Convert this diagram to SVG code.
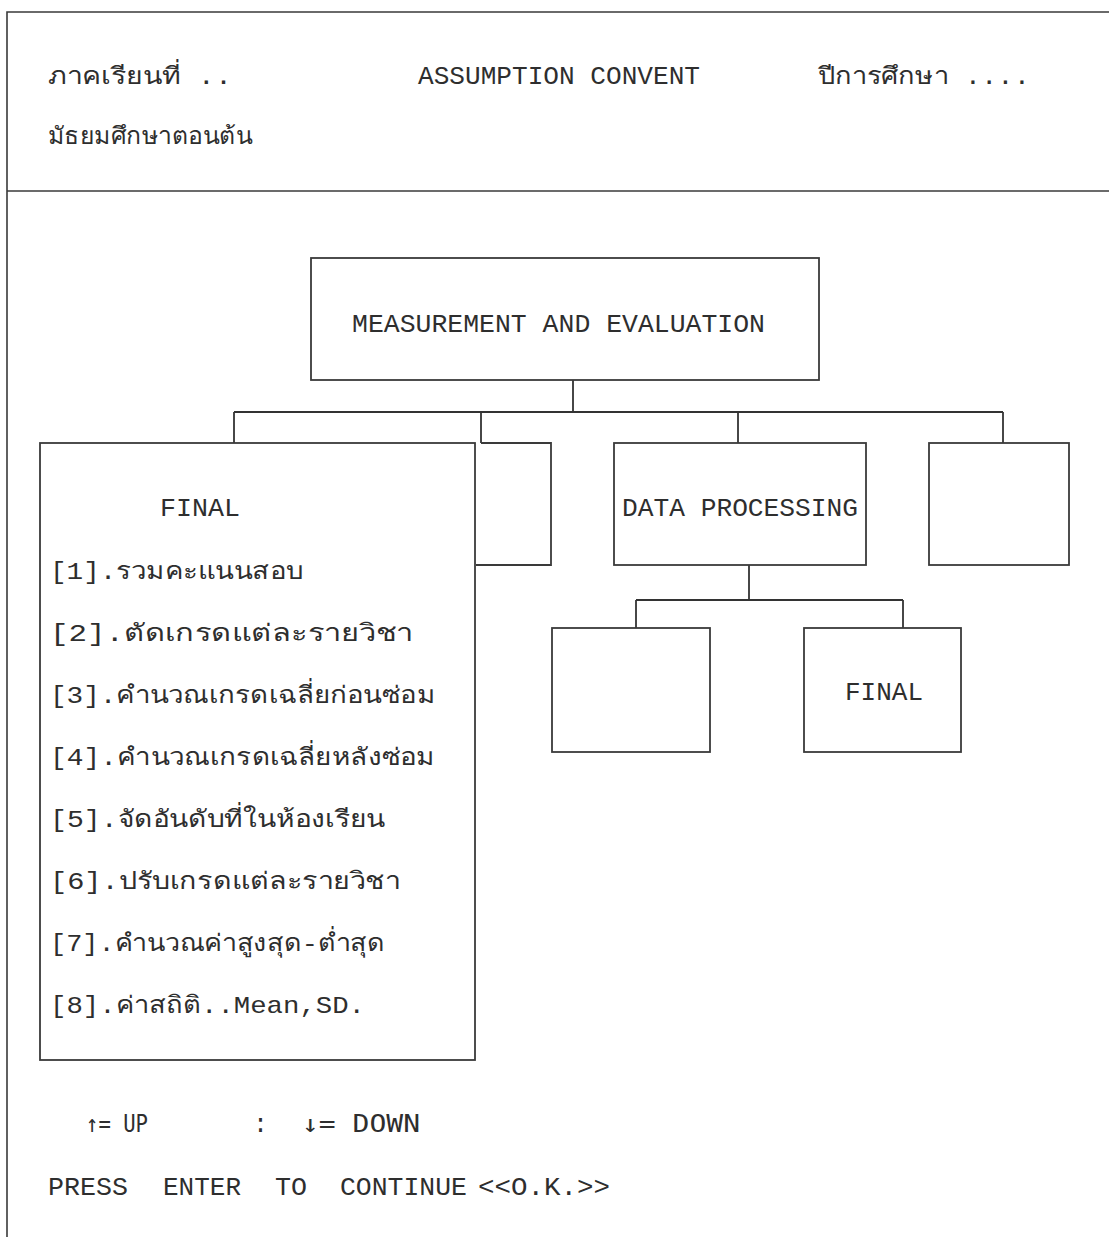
<svg xmlns="http://www.w3.org/2000/svg" width="1109" height="1237" viewBox="0 0 1109 1237">
  <style>
    .frame { fill: none; stroke: #3a3a3a; stroke-width: 1.6; }
    .box { fill: none; stroke: #3a3a3a; stroke-width: 1.8; }
    .wire { fill: none; stroke: #333333; stroke-width: 1.8; }
    .t { font-family: "Liberation Mono", "DejaVu Sans Mono", monospace; font-size: 25px; fill: #2e2e2e; }
    .th { font-family: "Liberation Mono", "Noto Sans", "DejaVu Sans", monospace; font-size: 24px; fill: #2e2e2e; }
    .key { font-family: "DejaVu Sans Mono", "Liberation Mono", monospace; font-size: 24px; fill: #2e2e2e; }
  </style>

  <rect width="1109" height="1237" fill="#ffffff"/>

  <!-- screen frame -->
  <g id="frame">
    <path class="frame" d="M7,1237 V12 H1109"/>
    <path class="frame" d="M7,191 H1109"/>
  </g>

  <!-- header -->
  <g id="header">
    <text class="th" x="48" y="84" textLength="184" lengthAdjust="spacingAndGlyphs">ภาคเรียนที่ ..</text>
    <text class="t" x="418" y="84" textLength="282" lengthAdjust="spacingAndGlyphs">ASSUMPTION CONVENT</text>
    <text class="th" x="818" y="84" textLength="212" lengthAdjust="spacingAndGlyphs">ปีการศึกษา ....</text>
    <text class="th" x="48" y="144" textLength="204" lengthAdjust="spacingAndGlyphs">มัธยมศึกษาตอนต้น</text>
  </g>

  <!-- connectors -->
  <g id="connectors">
    <path class="wire" d="M573,380 V412"/>
    <path class="wire" d="M234,412 H1003"/>
    <path class="wire" d="M234,412 V443"/>
    <path class="wire" d="M481,412 V443"/>
    <path class="wire" d="M738,412 V443"/>
    <path class="wire" d="M1003,412 V443"/>
    <path class="wire" d="M749,565 V600"/>
    <path class="wire" d="M636,600 H903"/>
    <path class="wire" d="M636,600 V628"/>
    <path class="wire" d="M903,600 V628"/>
  </g>

  <!-- root node -->
  <g id="node-root">
    <rect class="box" x="311" y="258" width="508" height="122"/>
    <text class="t" x="352" y="332" textLength="413" lengthAdjust="spacingAndGlyphs">MEASUREMENT AND EVALUATION</text>
  </g>

  <!-- node partly hidden behind the FINAL menu -->
  <g id="node-hidden">
    <path class="box" d="M481,443 H551 V565 H476"/>
  </g>

  <!-- FINAL menu -->
  <g id="node-final-menu">
    <rect class="box" x="40" y="443" width="435" height="617" fill="#ffffff"/>
    <text class="t" x="160" y="516" textLength="80" lengthAdjust="spacingAndGlyphs">FINAL</text>
    <text class="th" x="50" y="579" textLength="253" lengthAdjust="spacingAndGlyphs">[1].รวมคะแนนสอบ</text>
    <text class="th" x="50" y="641" textLength="363" lengthAdjust="spacingAndGlyphs">[2].ตัดเกรดแต่ละรายวิชา</text>
    <text class="th" x="50" y="703" textLength="385" lengthAdjust="spacingAndGlyphs">[3].คำนวณเกรดเฉลี่ยก่อนซ่อม</text>
    <text class="th" x="50" y="765" textLength="385" lengthAdjust="spacingAndGlyphs">[4].คำนวณเกรดเฉลี่ยหลังซ่อม</text>
    <text class="th" x="50" y="827" textLength="335" lengthAdjust="spacingAndGlyphs">[5].จัดอันดับที่ในห้องเรียน</text>
    <text class="th" x="50" y="889" textLength="350" lengthAdjust="spacingAndGlyphs">[6].ปรับเกรดแต่ละรายวิชา</text>
    <text class="th" x="50" y="951" textLength="335" lengthAdjust="spacingAndGlyphs">[7].คำนวณค่าสูงสุด-ต่ำสุด</text>
    <text class="th" x="50" y="1013" textLength="315" lengthAdjust="spacingAndGlyphs">[8].ค่าสถิติ..Mean,SD.</text>
  </g>

  <!-- DATA PROCESSING -->
  <g id="node-data-processing">
    <rect class="box" x="614" y="443" width="252" height="122"/>
    <text class="t" x="622" y="516" textLength="236" lengthAdjust="spacingAndGlyphs">DATA PROCESSING</text>
  </g>

  <!-- right empty node -->
  <g id="node-right">
    <rect class="box" x="929" y="443" width="140" height="122"/>
  </g>

  <!-- DATA PROCESSING children -->
  <g id="node-dp-left">
    <rect class="box" x="552" y="628" width="158" height="124"/>
  </g>
  <g id="node-dp-final">
    <rect class="box" x="804" y="628" width="157" height="124"/>
    <text class="t" x="845" y="700" textLength="78" lengthAdjust="spacingAndGlyphs">FINAL</text>
  </g>

  <!-- key help -->
  <g id="footer">
    <text class="key" x="86" y="1132" textLength="62" lengthAdjust="spacingAndGlyphs">↑= UP</text>
    <text class="t" x="253" y="1132">:</text>
    <text class="key" x="302" y="1132" textLength="118" lengthAdjust="spacingAndGlyphs">↓= DOWN</text>
    <text class="t" x="48" y="1195" textLength="80" lengthAdjust="spacingAndGlyphs">PRESS</text>
    <text class="t" x="163" y="1195" textLength="78" lengthAdjust="spacingAndGlyphs">ENTER</text>
    <text class="t" x="275" y="1195" textLength="32" lengthAdjust="spacingAndGlyphs">TO</text>
    <text class="t" x="340" y="1195" textLength="127" lengthAdjust="spacingAndGlyphs">CONTINUE</text>
    <text class="t" x="478" y="1195" textLength="132" lengthAdjust="spacingAndGlyphs">&lt;&lt;O.K.&gt;&gt;</text>
  </g>
</svg>
